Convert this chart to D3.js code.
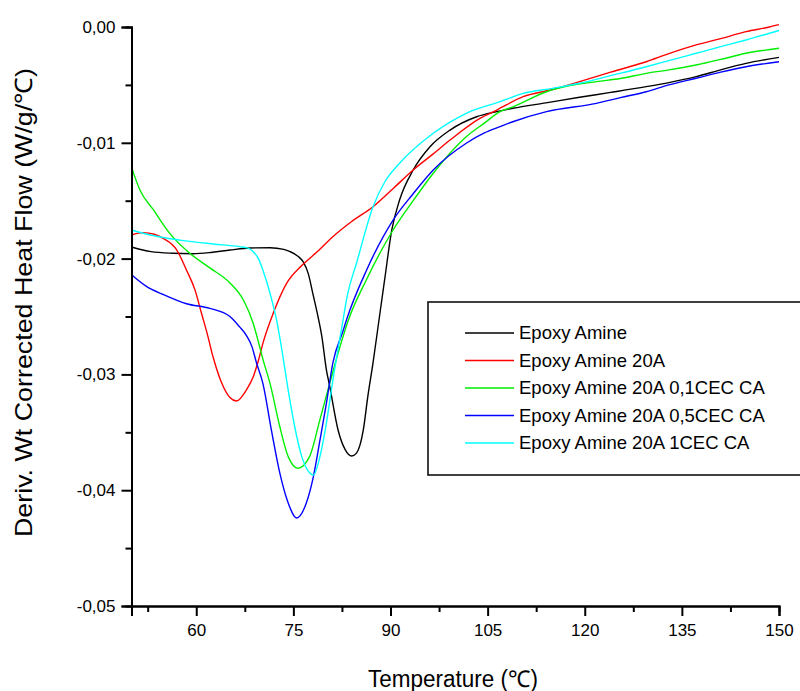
<!DOCTYPE html>
<html><head><meta charset="utf-8">
<script src="https://cdn.jsdelivr.net/npm/d3@7"></script>
<style>body{margin:0;background:#fff}text{font-family:"Liberation Sans",Arial,sans-serif;fill:#000}</style>
</head><body><svg id="c" width="800" height="691"></svg>
<script>
const seriesNames = ["Epoxy Amine","Epoxy Amine 20A","Epoxy Amine 20A 0,1CEC CA","Epoxy Amine 20A 0,5CEC CA","Epoxy Amine 20A 1CEC CA"];
const seriesColors = ["#000000","#ff0000","#00ee00","#0000ff","#00ffff"];
const xTicks = [60,75,90,105,120,135,150];
const yTicks = [0,-0.01,-0.02,-0.03,-0.04,-0.05];
const xLabel = "Temperature (\u2103)";
const yLabel = "Deriv. Wt Corrected Heat Flow (W/g/\u2103)";

const epoxyAmine = [[50,-0.0190],[53,-0.0194],[56.4,-0.01954],[59.5,-0.01958],[62.5,-0.01945],[65.2,-0.01926],[68.3,-0.01908],[71.4,-0.01906],[73.5,-0.0192],[74.5,-0.0194],[75.7,-0.0198],[76.5,-0.02027],[77.3,-0.0213],[78,-0.0230],[78.8,-0.0250],[79.4,-0.02674],[80.1,-0.0296],[80.6,-0.0310],[81.9,-0.0348],[83.0,-0.0365],[84.0,-0.03705],[84.75,-0.0368],[85.8,-0.0348],[86.5,-0.0319],[87.3,-0.0290],[88.1,-0.0258],[89.1,-0.0218],[90.2,-0.01753],[91.4,-0.01494],[93.5,-0.01235],[96.1,-0.01034],[99.2,-0.0089],[103.3,-0.00775],[106.4,-0.00731],[108.9,-0.00702],[114,-0.00655],[119.2,-0.00607],[124,-0.00565],[129.5,-0.00515],[133,-0.0048],[137.2,-0.00429],[141,-0.0037],[144.9,-0.00314],[150,-0.00262]];
const epoxyAmine20A = [[50,-0.01796],[51.8,-0.01776],[53.5,-0.0179],[54.9,-0.01825],[57.0,-0.01926],[58.5,-0.0210],[59.8,-0.0227],[60.8,-0.0247],[61.7,-0.0265],[62.6,-0.0285],[63.9,-0.0307],[65.2,-0.0320],[66.2,-0.0323],[67.8,-0.0313],[68.8,-0.0302],[69.6,-0.0288],[70.3,-0.0273],[71.9,-0.0247],[74.0,-0.0221],[76.3,-0.0206],[78.5,-0.0195],[81.1,-0.01811],[84,-0.0168],[87.3,-0.01552],[90.5,-0.0139],[93.5,-0.01235],[96.5,-0.0110],[99.2,-0.00976],[103.8,-0.00789],[106.4,-0.00717],[110.5,-0.00602],[115,-0.0054],[119.2,-0.00472],[124,-0.0039],[129.5,-0.0030],[133,-0.0023],[137.2,-0.00155],[141,-0.0010],[144.9,-0.0004],[148.5,0.0],[150,0.0002]];
const epoxyAmine20A01 = [[50,-0.0121],[51.3,-0.01408],[53.4,-0.0158],[55.9,-0.01782],[59.0,-0.01954],[62.1,-0.0208],[65.2,-0.0221],[67.3,-0.0236],[68.8,-0.0256],[69.6,-0.0272],[70.3,-0.0287],[71.4,-0.0308],[72.9,-0.0345],[74.2,-0.0371],[75.7,-0.0381],[77.5,-0.0371],[79.1,-0.0339],[80.6,-0.0308],[82.2,-0.0276],[83.5,-0.0253],[86.3,-0.0218],[90.4,-0.01753],[93.5,-0.0150],[96.6,-0.01263],[101.7,-0.00947],[104.5,-0.0083],[106.9,-0.00731],[108.9,-0.00690],[114.1,-0.00559],[117,-0.00515],[121.8,-0.00472],[125.5,-0.00445],[129.5,-0.0040],[133,-0.0037],[137.2,-0.00328],[141,-0.0028],[144.9,-0.00227],[150,-0.00184]];
const epoxyAmine20A05 = [[50,-0.0214],[52.3,-0.0224],[54.9,-0.0231],[58.5,-0.0239],[62.1,-0.0243],[65.2,-0.0250],[66.7,-0.0259],[67.7,-0.0266],[68.6,-0.0276],[69.3,-0.0290],[70.3,-0.0308],[71.6,-0.0348],[72.9,-0.0385],[74.2,-0.0411],[75.5,-0.0424],[77.0,-0.0411],[78.1,-0.0388],[79.1,-0.0357],[80.1,-0.0325],[81.1,-0.0290],[82.7,-0.0262],[83.2,-0.0253],[86.3,-0.0210],[90.4,-0.01667],[93.5,-0.0144],[96.6,-0.01235],[101.7,-0.01004],[104.5,-0.00915],[106.9,-0.00861],[108.9,-0.00818],[114.1,-0.00731],[121.8,-0.00659],[125.5,-0.0061],[129.5,-0.00559],[133,-0.0050],[137.2,-0.00443],[141,-0.0039],[144.9,-0.00343],[150,-0.0030]];
const epoxyAmine20A1 = [[50,-0.01753],[52.9,-0.01796],[57.5,-0.0184],[62.6,-0.01874],[66.7,-0.01897],[68.0,-0.0191],[68.8,-0.0194],[69.6,-0.0200],[70.3,-0.0210],[71.4,-0.0230],[72.4,-0.0253],[73.4,-0.0285],[73.95,-0.0305],[75.2,-0.0345],[76.3,-0.0371],[77.5,-0.0385],[78.1,-0.0387],[79.1,-0.0371],[80.1,-0.0342],[81.1,-0.0305],[82.4,-0.0262],[83.4,-0.0230],[84.75,-0.0204],[87.3,-0.01552],[89.2,-0.0133],[91.4,-0.01177],[96.6,-0.00918],[101.7,-0.00745],[106.9,-0.00645],[110.5,-0.00573],[115,-0.0053],[119.2,-0.00486],[124,-0.0042],[129.5,-0.00343],[133,-0.0029],[137.2,-0.00227],[141,-0.0017],[144.9,-0.00112],[150,-0.0003]];
const seriesData = [epoxyAmine, epoxyAmine20A, epoxyAmine20A01, epoxyAmine20A05, epoxyAmine20A1];

const svg = d3.select("#c");
const x = d3.scaleLinear().domain([50,150]).range([131.5,779]);
const y = d3.scaleLinear().domain([-0.05,0]).range([606,27]);
const fmt = d => d3.format(".2f")(d).replace(".",",").replace("\u2212","-");

// data lines
const line = d3.line().x(d=>x(d[0])).y(d=>y(d[1])).curve(d3.curveMonotoneX);
svg.append("g").selectAll("path").data(seriesData).join("path")
  .attr("d", line).attr("fill","none")
  .attr("stroke",(d,i)=>seriesColors[i]).attr("stroke-width",1.4);

// axes
const xAxis = svg.append("g").attr("transform","translate(0,606)");
xAxis.call(d3.axisBottom(x).tickValues(d3.range(52.5,150,7.5).filter(v=>v%15!==0)).tickSize(6).tickFormat(""));
xAxis.call(g=>g.append("g").call(d3.axisBottom(x).tickValues(xTicks).tickSize(10).tickPadding(8).tickFormat(d3.format("d"))));
const yAxis = svg.append("g").attr("transform","translate(131.5,0)");
yAxis.call(d3.axisLeft(y).tickValues(d3.range(-0.045,0,0.01)).tickSize(6).tickFormat(""));
yAxis.call(g=>g.append("g").call(d3.axisLeft(y).tickValues(yTicks).tickSize(10).tickPadding(6).tickFormat(fmt)));
svg.selectAll(".domain").attr("stroke","#000").attr("stroke-width",2);
svg.selectAll(".tick line").attr("stroke","#000").attr("stroke-width",2);
svg.selectAll(".tick text").attr("font-size",17).attr("font-family","'Liberation Sans',Arial,sans-serif").attr("fill","#000");

// axis titles
svg.append("text").attr("x",453).attr("y",687).attr("text-anchor","middle")
  .attr("font-size",23).attr("textLength",170).attr("lengthAdjust","spacingAndGlyphs").text(xLabel);
svg.append("text").attr("transform","translate(32,302.5) rotate(-90)").attr("text-anchor","middle")
  .attr("font-size",24).attr("textLength",469).attr("lengthAdjust","spacingAndGlyphs").text(yLabel);

// legend
const lg = svg.append("g");
lg.append("rect").attr("x",428).attr("y",302).attr("width",380).attr("height",173)
  .attr("fill","#fff").attr("stroke","#111").attr("stroke-width",1.6);
const rows = lg.selectAll("g.r").data(seriesNames).join("g").attr("class","r")
  .attr("transform",(d,i)=>`translate(0,${333+i*27.5})`);
rows.append("line").attr("x1",465).attr("x2",514).attr("stroke",(d,i)=>seriesColors[i]).attr("stroke-width",1.6);
rows.append("text").attr("x",519).attr("dy","0.35em").attr("font-size",18.5).text(d=>d);
</script></body></html>
